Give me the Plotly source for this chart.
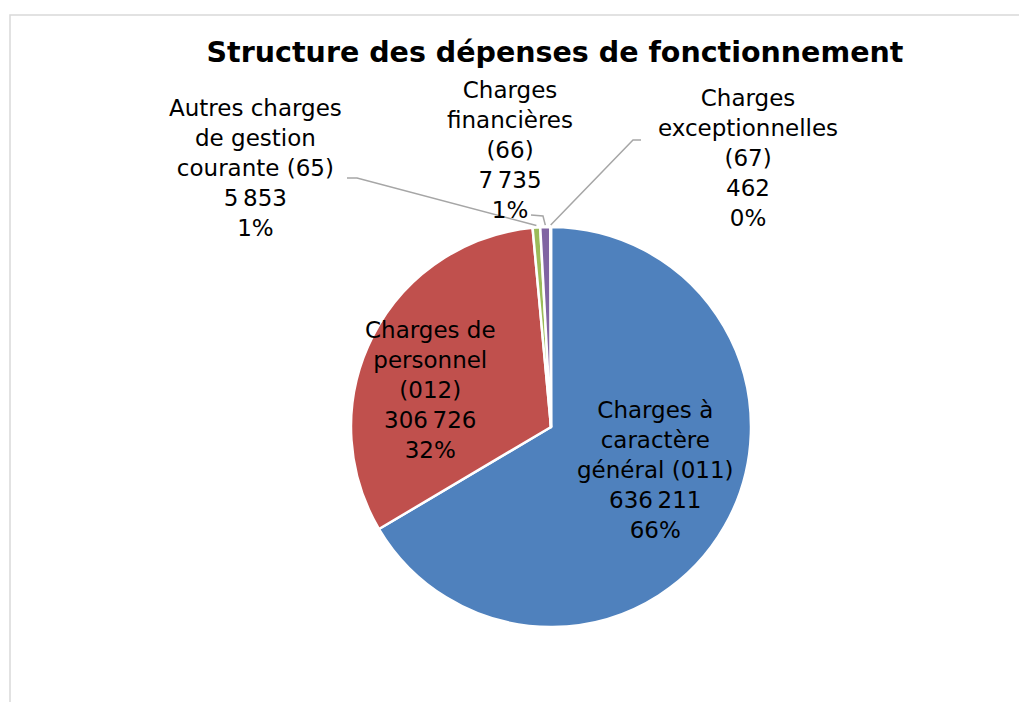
import math
import plotly.graph_objects as go

categories = [
    "Charges à caractère général (011)",
    "Charges de personnel (012)",
    "Autres charges de gestion courante (65)",
    "Charges financières (66)",
    "Charges exceptionnelles (67)",
]
display_names = [
    "Charges à<br>caractère<br>général (011)",
    "Charges de<br>personnel<br>(012)",
    "Autres charges<br>de gestion<br>courante (65)",
    "Charges<br>financières<br>(66)",
    "Charges<br>exceptionnelles<br>(67)",
]
values = [636211, 306726, 5853, 7735, 462]
colors = ["#4F81BD", "#C0504D", "#9BBB59", "#8064A2", "#4BACC6"]

W, H = 1027, 702
OFF = 8  # page body margin
CX, CY, R = 551, 427, 200  # page pixels
FONT = "DejaVu Sans"
FS = 23

def PX(x):
    return (x - OFF) / W

def PY(y):
    return 1 - (y - OFF) / H

total = sum(values)

def fmt(v):
    return f"{v:,}".replace(",", "\u202f")

texts = []
for n, v in zip(display_names, values):
    pct = round(100 * v / total)
    texts.append(f"{n}<br>{fmt(v)}<br>{pct}%")

fig = go.Figure(go.Pie(
    labels=categories,
    values=values,
    textinfo="none",
    sort=False,
    direction="clockwise",
    rotation=0,
    marker=dict(colors=colors, line=dict(color="white", width=2.5)),
    domain=dict(x=[PX(CX - R), PX(CX + R)], y=[PY(CY + R), PY(CY - R)]),
    hoverinfo="label+value+percent",
    showlegend=False,
))

# label centres (page pixels) and leader lines (label end, bend) for small slices
label_pos = {0: (655, 470), 1: (430, 390), 2: (255, 168), 3: (510, 150), 4: (748, 158)}
leaders = {2: [(347, 178), (357, 178)], 3: [(531, 215), (543, 216)], 4: [(641, 140), (633, 140)]}

annotations = []
shapes = []
cum = 0
for i, v in enumerate(values):
    mid = (cum + v / 2) / total
    cum += v
    lx, ly = label_pos[i]
    annotations.append(dict(
        x=PX(lx), y=PY(ly), xref="paper", yref="paper",
        text=texts[i], showarrow=False, align="center",
        font=dict(family=FONT, size=FS, color="black"),
        xanchor="center", yanchor="middle",
    ))
    if i in leaders:
        th = 2 * math.pi * mid
        ex = CX + R * math.sin(th)
        ey = CY - R * math.cos(th) - 2
        pts = leaders[i] + [(ex, ey)]
        path = "M " + " L ".join(f"{PX(x)},{PY(y)}" for x, y in pts)
        shapes.append(dict(type="path", xref="paper", yref="paper", path=path,
                           line=dict(color="#A6A6A6", width=1.5)))

shapes.append(dict(type="rect", xref="paper", yref="paper", x0=PX(10), x1=1.2, y0=-0.2, y1=PY(15),
                   line=dict(color="#D9D9D9", width=1.5), fillcolor="rgba(0,0,0,0)", layer="below"))

fig.update_layout(
    width=W, height=H,
    margin=dict(l=0, r=0, t=0, b=0),
    paper_bgcolor="white",
    plot_bgcolor="white",
    title=dict(text="<b>Structure des dépenses de fonctionnement</b>", x=PX(555), xanchor="center",
               y=PY(52), yanchor="middle",
               font=dict(family=FONT, size=28.5, color="black")),
    annotations=annotations,
    shapes=shapes,
)

fig.write_html("out.html")
